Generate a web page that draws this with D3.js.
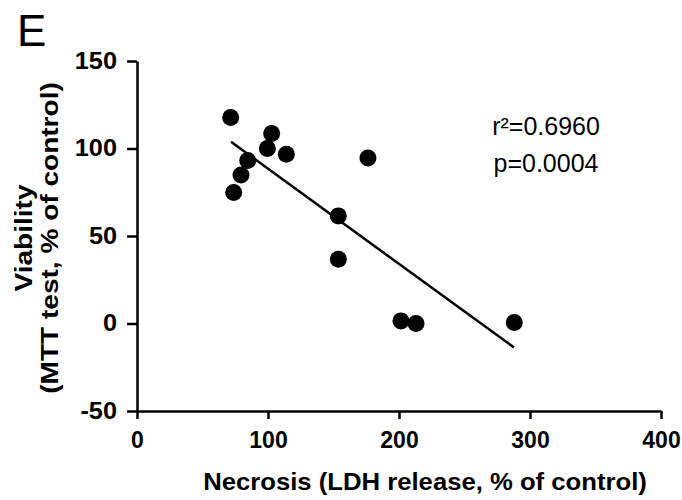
<!DOCTYPE html>
<html>
<head>
<meta charset="utf-8">
<script src="https://cdn.jsdelivr.net/npm/d3@7"></script>
<style>
  body { margin: 0; background: #fff; }
  text { font-family: "Liberation Sans", Arial, sans-serif; }
</style>
</head>
<body>
<div id="chart"></div>
<script>
// values
const necrosis = [71.5, 73.8, 79.4, 84.5, 99.5, 102.8, 114, 153.7, 153.7, 176.3, 201.5, 213, 288];
const viability = [117.7, 74.9, 84.9, 93.1, 100, 108.6, 96.7, 61.5, 36.7, 94.6, 1.5, 0, 0.6];

// regression line end points
const fitX = [71.8, 287.8];
const fitY = [103.8, -13.7];

const xTicks = [0, 100, 200, 300, 400];
const yTicks = [-50, 0, 50, 100, 150];
const statLines = ["r\u00B2=0.6960", "p=0.0004"];

const width = 682, height = 500;
const margin = {top: 61, right: 21, bottom: 89, left: 137};

const svg = d3.select("#chart")
    .append("svg")
        .attr("width", width)
        .attr("height", height);

const xScale = d3.scaleLinear()
    .domain([0, 400])
    .range([margin.left, width - margin.right]);

const yScale = d3.scaleLinear()
    .domain([-50, 150])
    .range([height - margin.bottom, margin.top]);

// x axis
const xAxis = svg.append("g")
    .attr("transform", "translate(0," + yScale(-50) + ")")
    .call(d3.axisBottom(xScale).tickValues(xTicks).tickFormat(d => String(d))
        .tickSize(8).tickSizeOuter(0).tickPadding(13));

// y axis
const yAxis = svg.append("g")
    .attr("transform", "translate(" + xScale(0) + ",0)")
    .call(d3.axisLeft(yScale).tickValues(yTicks).tickFormat(d => String(d))
        .tickSize(10).tickSizeOuter(0).tickPadding(10));

[xAxis, yAxis].forEach(ax => {
    ax.attr("font-family", null).attr("font-size", null);
    ax.select(".domain").attr("stroke", "#000").attr("stroke-width", 2.5);
    ax.selectAll(".tick line").attr("stroke", "#000").attr("stroke-width", 2.5);
    ax.selectAll(".tick text")
        .attr("fill", "#000")
        .style("font-size", "23px")
        .style("font-weight", "bold");
});
yAxis.selectAll(".tick text")
    .attr("x", null)
    .attr("transform", "translate(-20,0) scale(1.1,1)");

// fitted line
svg.append("line")
    .attr("x1", xScale(fitX[0]))
    .attr("y1", yScale(fitY[0]))
    .attr("x2", xScale(fitX[1]))
    .attr("y2", yScale(fitY[1]))
    .attr("stroke", "#000")
    .attr("stroke-width", 2.5);

// points
svg.selectAll("circle")
    .data(necrosis.map((d, i) => ({x: d, y: viability[i]})))
    .enter()
    .append("circle")
        .attr("cx", d => xScale(d.x))
        .attr("cy", d => yScale(d.y))
        .attr("r", 8.5)
        .attr("fill", "#000");

// stats text
svg.selectAll(".stat")
    .data(statLines)
    .enter()
    .append("text")
        .attr("class", "stat")
        .attr("x", 546)
        .attr("y", (d, i) => 135 + i * 37)
        .attr("text-anchor", "middle")
        .attr("font-size", "25px")
        .text(d => d);

// panel letter
svg.append("text")
    .attr("x", 17)
    .attr("y", 46)
    .attr("font-size", "44px")
    .text("E");

// x title
svg.append("text")
    .attr("transform", "translate(425,490) scale(1.07,1)")
    .attr("text-anchor", "middle")
    .attr("font-size", "24px")
    .attr("font-weight", "bold")
    .text("Necrosis (LDH release, % of control)");

// y title, two lines
svg.append("text")
    .attr("transform", "translate(32,238) rotate(-90) scale(1.22,1)")
    .attr("text-anchor", "middle")
    .attr("font-size", "23px")
    .attr("font-weight", "bold")
    .text("Viability");

svg.append("text")
    .attr("transform", "translate(58,238) rotate(-90) scale(1.22,1)")
    .attr("text-anchor", "middle")
    .attr("font-size", "23px")
    .attr("font-weight", "bold")
    .text("(MTT test, % of control)");
</script>
</body>
</html>
